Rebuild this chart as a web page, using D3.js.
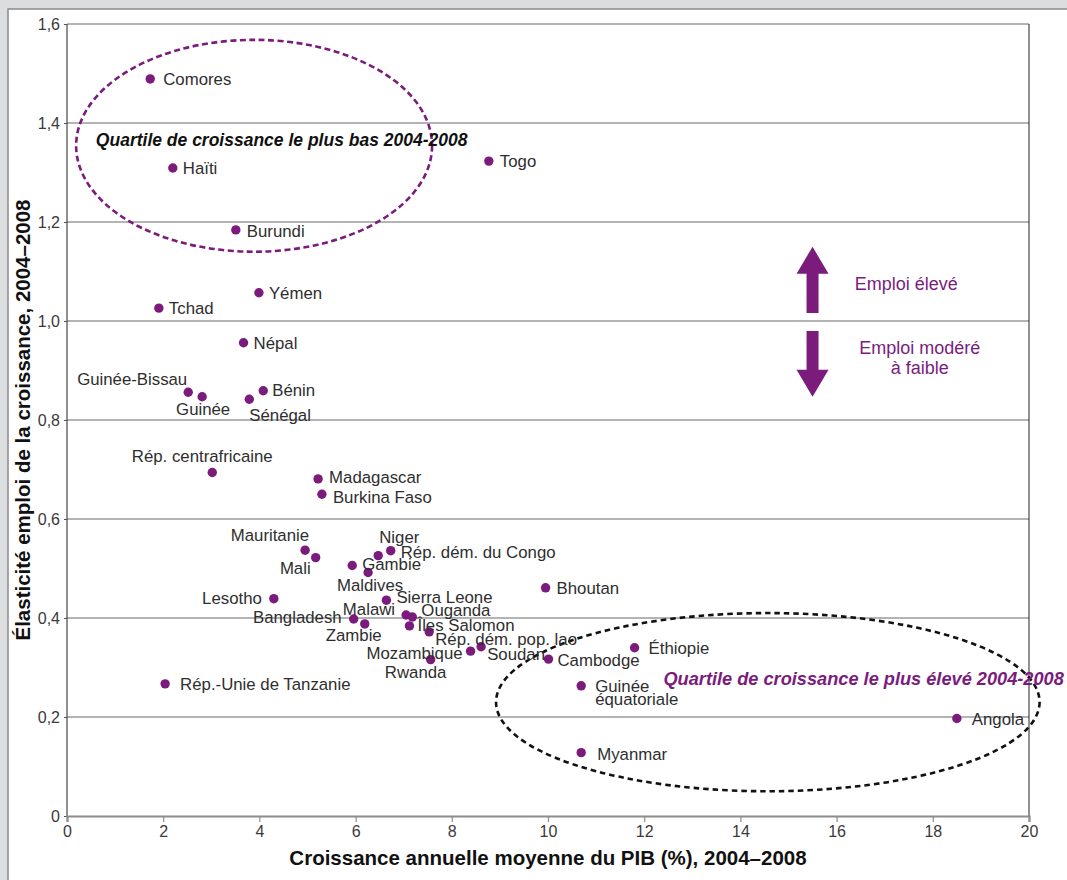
<!DOCTYPE html>
<html>
<head>
<meta charset="utf-8">
<script src="https://cdn.jsdelivr.net/npm/d3@7"></script>
<style>
  html, body { margin: 0; padding: 0; background: #dcdddf; }
  svg { display: block; }
</style>
</head>
<body>
<svg id="chart" width="1067" height="880"></svg>
<script>
// Pays, croissance annuelle moyenne du PIB (%) et élasticité emploi, 2004–2008
const countries = [
  "Comores", "Haïti", "Burundi", "Togo", "Yémen", "Tchad", "Népal",
  "Guinée-Bissau", "Guinée", "Bénin", "Sénégal", "Rép. centrafricaine",
  "Madagascar", "Burkina Faso", "Mauritanie", "Mali", "Gambie", "Maldives",
  "Niger", "Rép. dém. du Congo", "Lesotho", "Sierra Leone", "Bangladesh",
  "Zambie", "Malawi", "Ouganda", "Îles Salomon", "Rép. dém. pop. lao",
  "Mozambique", "Soudan", "Rwanda", "Bhoutan", "Cambodge", "Éthiopie",
  "Guinée équatoriale", "Angola", "Myanmar", "Rép.-Unie de Tanzanie"
];
const growth = [
  1.73, 2.20, 3.51, 8.77, 3.99, 1.91, 3.67,
  2.52, 2.81, 4.08, 3.79, 3.02,
  5.22, 5.30, 4.95, 5.17, 5.93, 6.26,
  6.47, 6.73, 4.30, 6.64, 5.96,
  6.19, 7.05, 7.18, 7.12, 7.53,
  8.39, 8.61, 7.56, 9.95, 10.01, 11.80,
  10.69, 18.50, 10.69, 2.04
];
const elasticity = [
  1.489, 1.309, 1.184, 1.323, 1.057, 1.026, 0.956,
  0.856, 0.847, 0.859, 0.842, 0.694,
  0.681, 0.650, 0.537, 0.522, 0.506, 0.492,
  0.526, 0.536, 0.439, 0.436, 0.398,
  0.388, 0.406, 0.402, 0.384, 0.372,
  0.333, 0.342, 0.316, 0.461, 0.317, 0.340,
  0.263, 0.197, 0.128, 0.267
];
const xTicks = [0, 2, 4, 6, 8, 10, 12, 14, 16, 18, 20];
const yTicks = [0, 0.2, 0.4, 0.6, 0.8, 1.0, 1.2, 1.4, 1.6];

// Quartiles entourés (centre et demi-axes en unités des axes)
const lowQuartile  = { cx: 3.89, cy: 1.354, rx: 3.70, ry: 0.214 };
const highQuartile = { cx: 14.57, cy: 0.230, rx: 5.65, ry: 0.180 };

// Placement des étiquettes autour de chaque point : [ancrage, dx, dy]
const labelPlacement = {
  "Comores": ["start", 13, 0], "Haïti": ["start", 10, 0], "Burundi": ["start", 11, 1],
  "Togo": ["start", 11, 0], "Yémen": ["start", 10, 0], "Tchad": ["start", 10, 0],
  "Népal": ["start", 10, 0], "Guinée-Bissau": ["end", -1, -13], "Guinée": ["middle", 1, 12],
  "Bénin": ["start", 9, -1], "Sénégal": ["start", 0, 16], "Rép. centrafricaine": ["middle", -10, -16],
  "Madagascar": ["start", 11, -2], "Burkina Faso": ["start", 11, 3], "Mauritanie": ["end", 4, -15],
  "Mali": ["end", -5, 11], "Gambie": ["start", 10, -1], "Maldives": ["middle", 2, 13],
  "Niger": ["start", 1, -19], "Rép. dém. du Congo": ["start", 10, 1], "Lesotho": ["end", -12, -1],
  "Sierra Leone": ["start", 10, -3], "Bangladesh": ["end", -12, -2], "Zambie": ["middle", -11, 11],
  "Malawi": ["end", -11, -6], "Ouganda": ["start", 9, -7], "Îles Salomon": ["start", 8, -1],
  "Rép. dém. pop. lao": ["start", 6, 7], "Mozambique": ["end", -8, 2], "Soudan": ["start", 6, 7],
  "Rwanda": ["middle", -15, 13], "Bhoutan": ["start", 11, 0], "Cambodge": ["start", 9, 1],
  "Éthiopie": ["start", 14, 0], "Guinée équatoriale": ["start", 14, 0], "Angola": ["start", 15, 1],
  "Myanmar": ["start", 16, 1], "Rép.-Unie de Tanzanie": ["start", 15, 0]
};
const twoLineLabels = new Set(["Guinée équatoriale"]);

const PURPLE = "#7b1c7d";
const FONT = "'Liberation Sans', Arial, Helvetica, sans-serif";

const svg = d3.select("#chart");
const W = 1067, H = 880;

// Panneau blanc
svg.append("rect").attr("x", 0).attr("y", 0).attr("width", W).attr("height", H).attr("fill", "#dcdddf");
svg.append("rect").attr("x", 8).attr("y", 9).attr("width", W + 10).attr("height", H + 10)
  .attr("fill", "#ffffff").attr("stroke", "#8a8a8a").attr("stroke-width", 1.5);

const x = d3.scaleLinear().domain([0, 20]).range([67, 1029]);
const y = d3.scaleLinear().domain([0, 1.6]).range([816, 24]);

const fmt = v => v === 0 ? "0" : d3.format(".1f")(v).replace(".", ",");

// Grille horizontale
svg.append("g").selectAll("line")
  .data(yTicks.filter(v => v > 0))
  .join("line")
  .attr("x1", x(0)).attr("x2", x(20))
  .attr("y1", d => y(d)).attr("y2", d => y(d))
  .attr("stroke", "#6a6a6a").attr("stroke-width", 1.2);

// Bords du cadre
svg.append("line").attr("x1", x(0)).attr("x2", x(0)).attr("y1", y(1.6)).attr("y2", y(0))
  .attr("stroke", "#222").attr("stroke-width", 1);
svg.append("line").attr("x1", x(20)).attr("x2", x(20)).attr("y1", y(1.6)).attr("y2", y(0))
  .attr("stroke", "#222").attr("stroke-width", 1);

// Axe des ordonnées
const yAxis = svg.append("g").attr("transform", `translate(${x(0)},0)`)
  .call(d3.axisLeft(y).tickValues(yTicks).tickFormat(fmt).tickSize(3).tickPadding(4));
yAxis.select(".domain").remove();
yAxis.selectAll(".tick line").attr("stroke", "#555");
yAxis.selectAll("text").attr("font-family", FONT).attr("font-size", 16).attr("fill", "#3a3a3a");

// Axe des abscisses
const xAxis = svg.append("g").attr("transform", `translate(0,${y(0)})`)
  .call(d3.axisBottom(x).tickValues(xTicks).tickFormat(d => String(d)).tickSize(6).tickPadding(4));
xAxis.select(".domain").attr("stroke", "#8c8c8c").attr("stroke-width", 2.2);
xAxis.selectAll(".tick line").attr("stroke", "#8c8c8c").attr("stroke-width", 1.2);
xAxis.selectAll("text").attr("font-family", FONT).attr("font-size", 16).attr("fill", "#3a3a3a");

// Titres des axes
svg.append("text")
  .attr("x", (x(0) + x(20)) / 2).attr("y", 865)
  .attr("text-anchor", "middle")
  .attr("font-family", FONT).attr("font-weight", "bold").attr("font-size", 20.5).attr("fill", "#111")
  .text("Croissance annuelle moyenne du PIB (%), 2004–2008");
svg.append("text")
  .attr("transform", `translate(30,${(y(0) + y(1.6)) / 2}) rotate(-90)`)
  .attr("text-anchor", "middle")
  .attr("font-family", FONT).attr("font-weight", "bold").attr("font-size", 20.5).attr("fill", "#111")
  .text("Élasticité emploi de la croissance, 2004–2008");

// Ellipses des quartiles
const ellipse = (q, color, dash) => svg.append("ellipse")
  .attr("cx", x(q.cx)).attr("cy", y(q.cy))
  .attr("rx", x(q.rx) - x(0)).attr("ry", y(0) - y(q.ry))
  .attr("fill", "none").attr("stroke", color).attr("stroke-width", 2.6)
  .attr("stroke-dasharray", dash);
ellipse(lowQuartile, PURPLE, "6,3.5");
ellipse(highQuartile, "#111", "5.5,4");

svg.append("text")
  .attr("x", x(0.6)).attr("y", y(1.353))
  .attr("font-family", FONT).attr("font-weight", "bold").attr("font-style", "italic")
  .attr("font-size", 17.5).attr("fill", "#111")
  .text("Quartile de croissance le plus bas 2004-2008");
svg.append("text")
  .attr("x", x(12.4)).attr("y", y(0.265))
  .attr("font-family", FONT).attr("font-weight", "bold").attr("font-style", "italic")
  .attr("font-size", 18.2).attr("fill", PURPLE)
  .text("Quartile de croissance le plus élevé 2004-2008");

// Flèches « emploi élevé / modéré à faible »
const arrow = (xc, yBase, yTip) => {
  const b = x(xc), s0 = y(yBase), tip = y(yTip);
  const dir = tip < s0 ? 1 : -1;          // 1 : vers le haut
  const headLen = 27, shaftHalf = 6, headHalf = 16;
  const hb = tip + dir * headLen;
  const pts = [
    [b - shaftHalf, s0], [b - shaftHalf, hb], [b - headHalf, hb], [b, tip],
    [b + headHalf, hb], [b + shaftHalf, hb], [b + shaftHalf, s0]
  ];
  svg.append("path").attr("d", d3.line()(pts) + "Z").attr("fill", PURPLE);
};
arrow(15.5, 1.016, 1.150);
arrow(15.5, 0.980, 0.847);

const purpleText = (xv, yv, str) => svg.append("text")
  .attr("x", x(xv)).attr("y", y(yv)).attr("text-anchor", "middle")
  .attr("font-family", FONT).attr("font-size", 18).attr("fill", PURPLE).text(str);
purpleText(17.45, 1.063, "Emploi élevé");
purpleText(17.73, 0.934, "Emploi modéré");
purpleText(17.73, 0.893, "à faible");

// Points et étiquettes
const points = countries.map((name, i) => ({ name, gx: growth[i], ey: elasticity[i] }));

svg.append("g").selectAll("circle")
  .data(points)
  .join("circle")
  .attr("cx", d => x(d.gx)).attr("cy", d => y(d.ey))
  .attr("r", 4.7).attr("fill", PURPLE);

const labels = svg.append("g")
  .attr("font-family", FONT).attr("font-size", 16.8).attr("fill", "#2e2e2e");
points.forEach(d => {
  const [anchor, dx, dy] = labelPlacement[d.name];
  const t = labels.append("text")
    .attr("text-anchor", anchor)
    .attr("x", x(d.gx) + dx).attr("y", y(d.ey) + dy);
  if (twoLineLabels.has(d.name)) {
    d.name.split(" ").forEach((part, k) => {
      t.append("tspan").attr("x", x(d.gx) + dx).attr("dy", k === 0 ? "0.35em" : "0.82em").text(part);
    });
  } else {
    t.attr("dy", "0.35em").text(d.name);
  }
});
</script>
</body>
</html>
